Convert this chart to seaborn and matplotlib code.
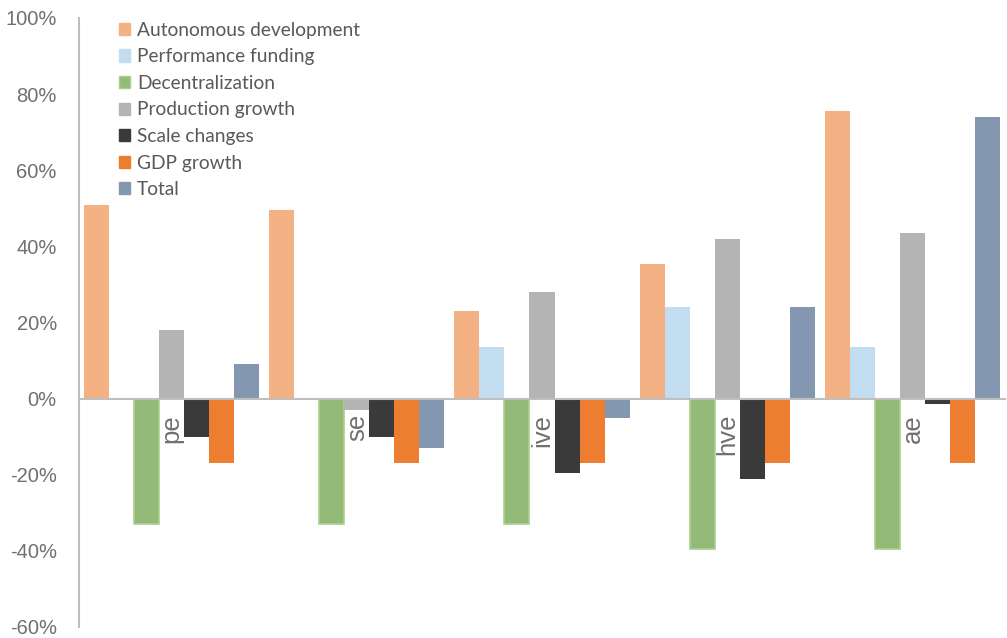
import matplotlib
matplotlib.use("Agg")
import matplotlib.pyplot as plt
import seaborn as sns
import pandas as pd
from matplotlib.patches import Patch

categories = ["pe", "se", "ive", "hve", "ae"]
series = ["Autonomous development", "Performance funding", "Decentralization",
          "Production growth", "Scale changes", "GDP growth", "Total"]
autonomous = [51, 49.5, 23, 35.5, 75.5]
performance = [0, 0, 13.5, 24, 13.5]
decentral = [-33, -33, -33, -39.5, -39.5]
production = [18, -3, 28, 42, 43.5]
scale = [-10, -10, -19.5, -21, -1.5]
gdp = [-17, -17, -17, -17, -17]
total = [9, -13, -5, 24, 74]
colors = ["#F4B183", "#C2DCF0", "#93BA77", "#B4B4B4", "#3A3A3A", "#ED7D31", "#8497B0"]
yticks = [-60, -40, -20, 0, 20, 40, 60, 80, 100]

values = [autonomous, performance, decentral, production, scale, gdp, total]
rows = []
for s, vals in zip(series, values):
    for c, v in zip(categories, vals):
        rows.append({"cat": c, "series": s, "value": v})
df = pd.DataFrame(rows)

sns.set_style("white")
plt.rcParams["font.family"] = ["Lato", "DejaVu Sans"]
fig = plt.figure(figsize=(10.07, 6.38), dpi=100)
ax = fig.add_axes([79/1007, 1 - 627/638, (1005-79)/1007, (627-18)/638])

sns.barplot(data=df, x="cat", y="value", hue="series", order=categories,
            hue_order=series, palette=colors, saturation=1, width=175/185,
            linewidth=0, legend=False, ax=ax)
for bar in ax.containers[2]:
    bar.set_edgecolor("#A9D18E")
    bar.set_linewidth(1.2)

ax.set_ylim(-60, 100)
ax.set_xlim(-0.5, 4.5)
ax.set_yticks(yticks)
ax.set_yticklabels([f"{t}%" for t in yticks], fontsize=14.5, color="#707070",
                   family=["Liberation Sans", "DejaVu Sans"])
ax.set_xlabel("")
ax.set_ylabel("")
for s in ["top", "right"]:
    ax.spines[s].set_visible(False)
ax.spines["left"].set_color("#BFBFBF")
ax.spines["left"].set_linewidth(1.5)
ax.spines["bottom"].set_position(("data", 0))
ax.spines["bottom"].set_color("#BFBFBF")
ax.spines["bottom"].set_linewidth(1.5)
ax.tick_params(axis="y", direction="in", length=6, width=1.5, color="#BFBFBF", pad=16)
ax.tick_params(axis="x", direction="out", length=5, width=1.5, color="#BFBFBF", pad=6)
ax.set_xticks(range(len(categories)))
ax.set_xticklabels(categories, rotation=90, fontsize=18.5, color="#707070", va="top",
                   ha="center", family=["Liberation Sans", "DejaVu Sans"])
ax.set_zorder(1)

handles = [Patch(facecolor=c, edgecolor=("#A9D18E" if i == 2 else c)) for i, c in enumerate(colors)]
leg = ax.legend(handles, series, loc="upper left", bbox_to_anchor=(32/926, 1.0 + 4/609),
                frameon=False, fontsize=13.8, handlelength=0.6, handleheight=0.6,
                handletextpad=0.35, labelspacing=0.5, borderaxespad=0)
for t in leg.get_texts():
    t.set_color("#595959")

fig.savefig("out.png", dpi=100)
